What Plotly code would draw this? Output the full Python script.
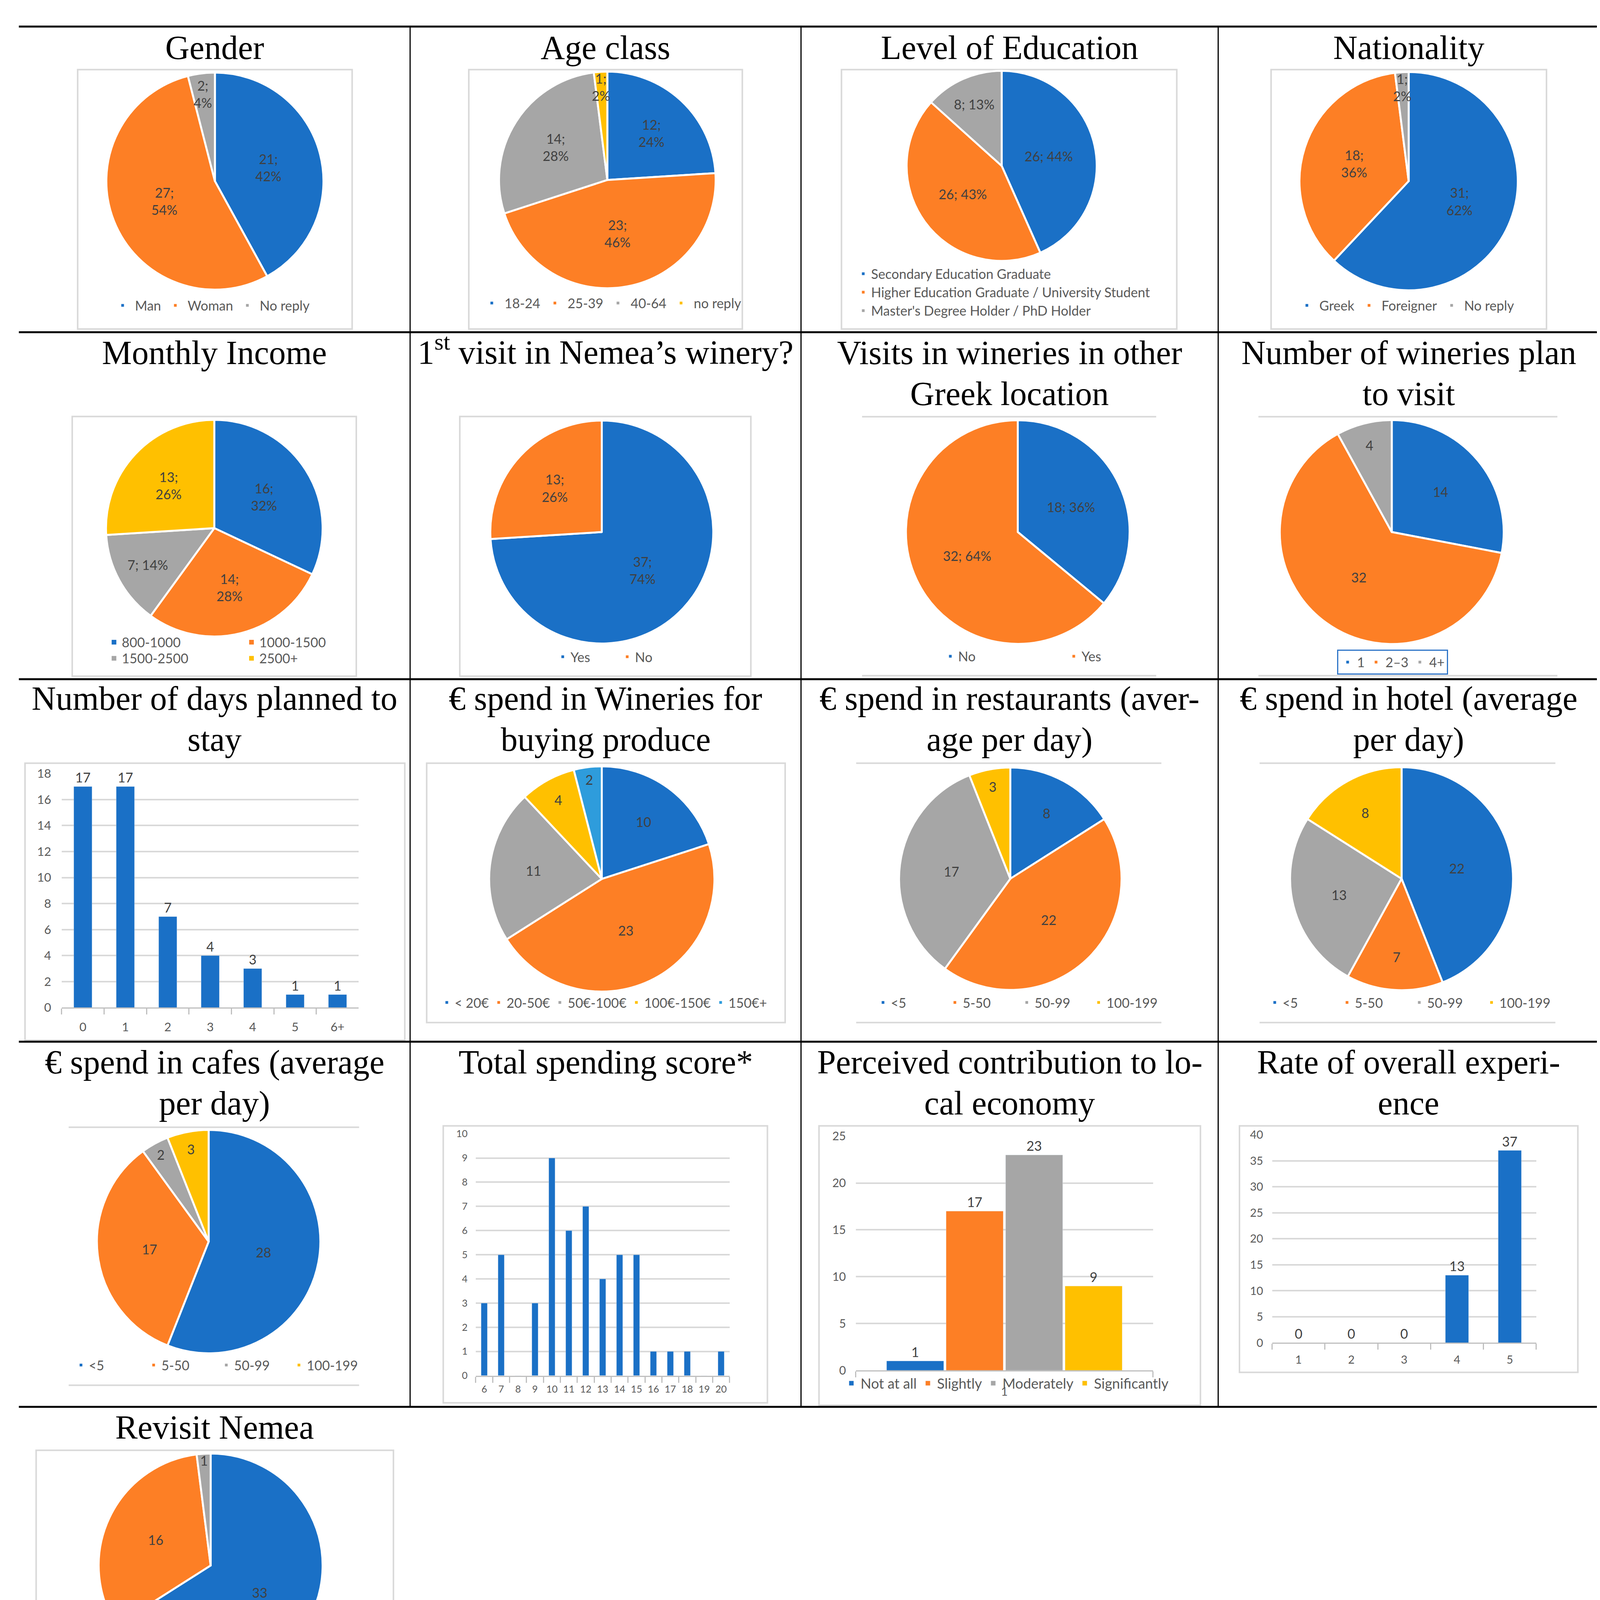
import plotly.graph_objects as go

# survey answers
gender_labels = ["Man", "Woman", "No reply"]
gender_values = [21, 27, 2]

age_labels = ["18-24", "25-39", "40-64", "no reply"]
age_values = [12, 23, 14, 1]

edu_labels = ["Secondary Education Graduate",
              "Higher Education Graduate / University Student",
              "Master's Degree Holder / PhD Holder"]
edu_values = [26, 26, 8]
edu_pct = [44, 43, 13]

nat_labels = ["Greek", "Foreigner", "No reply"]
nat_values = [31, 18, 1]

income_labels = ["800-1000", "1000-1500", "1500-2500", "2500+"]
income_values = [16, 14, 7, 13]

first_labels = ["Yes", "No"]
first_values = [37, 13]

other_labels = ["No", "Yes"]
other_values = [18, 32]

plan_labels = ["1", "2\u20133", "4+"]
plan_values = [14, 32, 4]

days_cats = ["0", "1", "2", "3", "4", "5", "6+"]
days_values = [17, 17, 7, 4, 3, 1, 1]

winery_labels = ["< 20\u20ac", "20-50\u20ac", "50\u20ac-100\u20ac", "100\u20ac-150\u20ac", "150\u20ac+"]
winery_values = [10, 23, 11, 4, 2]

spend_labels = ["<5", "5-50", "50-99", "100-199"]
rest_values = [8, 22, 17, 3]
hotel_values = [22, 7, 13, 8]
cafe_values = [28, 17, 2, 3]

score_cats = ["6", "7", "8", "9", "10", "11", "12", "13", "14", "15", "16", "17", "18", "19", "20"]
score_values = [3, 5, 0, 3, 9, 6, 7, 4, 5, 5, 1, 1, 1, 0, 1]

contrib_labels = ["Not at all", "Slightly", "Moderately", "Significantly"]
contrib_values = [1, 17, 23, 9]

rate_cats = ["1", "2", "3", "4", "5"]
rate_values = [0, 0, 0, 13, 37]

revisit_labels = ["Yes", "Maybe", "No"]
revisit_values = [33, 16, 1]

W, H = 4210, 4734
K = W / 1390  # layout below is measured on a 1390 px wide copy of the page

BLUE = "#1A70C6"
ORANGE = "#FD7F25"
GRAY = "#A6A6A6"
YELLOW = "#FFC000"
CYAN = "#2E9CDC"
PAL = [BLUE, ORANGE, GRAY, YELLOW, CYAN]

SERIF = "Liberation Serif"
SANS = "Lato"
LABEL = "#404040"
TICK = "#595959"
GRID = "#D9D9D9"


def X(t):
    return t * K / W


def Y(t):
    return 1 - t * K / H


fig = go.Figure()

TWO = "%{value};<br>%{percent:.0%}"
ONE = "%{value}; %{percent:.0%}"
LOW = "\u00a0<br>%{value};<br>%{percent:.0%}"  # thin slice: push label a bit inwards
pie_count = 0


def add_pie(labels, values, cx, cy, r, legend, template, showlegend=True, customdata=None):
    global pie_count
    pie_count += 1
    # plotly merges same-named slices across pies; keep each pie's legend separate
    names = [lab + "\u200b" * pie_count for lab in labels]
    fig.add_trace(go.Pie(
        labels=names, values=values, sort=False, direction="clockwise", rotation=0,
        marker=dict(colors=PAL[:len(values)], line=dict(color="white", width=5)),
        domain=dict(x=[X(cx - r), X(cx + r)], y=[Y(cy + r), Y(cy - r)]),
        texttemplate=template, textposition="inside", insidetextorientation="horizontal",
        textfont=dict(family=SANS, size=34, color=LABEL),
        customdata=customdata, legend=legend, showlegend=showlegend,
    ))


add_pie(gender_labels, gender_values, 179, 145, 92.5, "legend", [TWO, TWO, LOW])
add_pie(age_labels, age_values, 510.7, 144, 92.3, "legend2", [TWO, TWO, TWO, LOW])
add_pie(edu_labels, edu_values, 844, 132, 81, "legend3", "%{value}; %{customdata}%", customdata=edu_pct)
add_pie(nat_labels, nat_values, 1188, 145, 93, "legend4", [TWO, TWO, LOW])
add_pie(income_labels, income_values, 178.5, 440.7, 92.3, "legend5", [TWO, TWO, ONE, TWO], showlegend=False)
add_pie(first_labels, first_values, 506, 444, 95, "legend7", TWO)
add_pie(other_labels, other_values, 857.6, 444, 95.3, "legend8", ONE)
add_pie(plan_labels, plan_values, 1173.7, 444, 95.4, "legend9", "%{value}")
add_pie(winery_labels, winery_values, 506, 739.6, 96, "legend10", "%{value}")
add_pie(spend_labels, rest_values, 851.3, 739.4, 94.8, "legend11", "%{value}")
add_pie(spend_labels, hotel_values, 1182, 739.4, 95, "legend12", "%{value}")
add_pie(spend_labels, cafe_values, 173.7, 1048.6, 95.2, "legend13", "%{value}")
add_pie(revisit_labels, revisit_values, 175.4, 1324.6, 95.4, "legend15", "%{value}")

# income legend is laid out 2 x 2, as two legend rows
for i, lab in enumerate(income_labels):
    fig.add_trace(go.Scatter(
        x=[None], y=[None], mode="markers", name=lab,
        marker=dict(symbol="square", size=12, color=PAL[i]),
        legend="legend5" if i < 2 else "legend6", xaxis="x", yaxis="y",
    ))

bar_text = dict(texttemplate="%{y}", textposition="outside", cliponaxis=False)

fig.add_trace(go.Bar(x=days_cats, y=days_values, width=0.43, marker_color=BLUE,
                     textfont=dict(family=SANS, size=36, color=LABEL),
                     showlegend=False, xaxis="x", yaxis="y", **bar_text))
fig.add_trace(go.Bar(x=score_cats, y=score_values, width=0.37, marker_color=BLUE,
                     showlegend=False, xaxis="x2", yaxis="y2"))
for i, lab in enumerate(contrib_labels):
    fig.add_trace(go.Bar(x=["1"], y=[contrib_values[i]], name=lab, marker_color=PAL[i],
                         textfont=dict(family=SANS, size=38, color=LABEL),
                         legend="legend14", xaxis="x3", yaxis="y3", **bar_text))
fig.add_trace(go.Bar(x=rate_cats, y=rate_values, width=0.44, marker_color=BLUE,
                     textfont=dict(family=SANS, size=31, color=LABEL),
                     showlegend=False, xaxis="x4", yaxis="y4", **bar_text))


def xax(x0, x1, size, standoff):
    return dict(domain=[X(x0), X(x1)], type="category", showgrid=False,
                showline=True, linecolor="#BFBFBF", linewidth=3, ticks="outside",
                tickson="boundaries", ticklen=15, tickwidth=3, tickcolor="#BFBFBF",
                tickfont=dict(family=SANS, size=size, color=TICK),
                ticklabelstandoff=standoff, fixedrange=True)


def yax(y0, y1, top, dtick, size, standoff):
    return dict(domain=[Y(y0), Y(y1)], range=[0, top], dtick=dtick, showgrid=True,
                gridcolor=GRID, gridwidth=4, zeroline=False, showline=False,
                tickfont=dict(family=SANS, size=size, color=TICK),
                ticklabelstandoff=standoff, fixedrange=True)


axes = dict(
    xaxis=xax(49.5, 300.6, 31, 20),
    yaxis=yax(849.2, 649.8, 18, 2, 31, 26),
    xaxis2=xax(399.5, 614, 25, 10),
    yaxis2=yax(1162.8, 956.8, 10, 1, 25, 20),
    xaxis3=xax(720.6, 972, 30, 26),
    yaxis3=yax(1158.3, 958.8, 25, 5, 30, 24),
    xaxis4=xax(1072.6, 1295.8, 29, 16),
    yaxis4=yax(1134.8, 957.6, 40, 5, 29, 22),
)
for n in ("", "2", "3", "4"):
    axes["xaxis" + n]["anchor"] = "y" + n
    axes["yaxis" + n]["anchor"] = "x" + n


def leg(x, y, itemwidth=30, entrywidth=None, size=34, orientation="h", **kw):
    d = dict(x=X(x), y=Y(y), xanchor="left", yanchor="middle", orientation=orientation,
             itemwidth=itemwidth, font=dict(family=SANS, size=size, color=TICK),
             bgcolor="rgba(0,0,0,0)", itemclick=False, itemdoubleclick=False)
    if entrywidth:
        d["entrywidth"] = entrywidth
        d["entrywidthmode"] = "pixels"
    d.update(kw)
    return d


legends = dict(
    legend=leg(90.6, 251, itemwidth=53),
    legend2=leg(402.3, 249, itemwidth=55),
    legend3=leg(720.4, 239.7, orientation="v"),
    legend4=leg(1091.4, 251, itemwidth=54),
    legend5=leg(87.1, 538, entrywidth=307),
    legend6=leg(87.1, 551.7, entrywidth=307),
    legend7=leg(466.4, 550.4, entrywidth=120),
    legend8=leg(794, 550, entrywidth=271),
    legend9=leg(1127.5, 555, itemwidth=38, bordercolor="#2F75C8", borderwidth=3),
    legend10=leg(368.4, 845),
    legend11=leg(737.1, 845, entrywidth=139),
    legend12=leg(1068.2, 845, entrywidth=140),
    legend13=leg(59.2, 1153.9, entrywidth=141),
    legend14=leg(709.2, 1169.3, itemwidth=37, size=36),
    legend15=leg(116.6, 1428.3, itemwidth=50),
)

shapes = []


def line(x0, y0, x1, y1, color, width):
    shapes.append(dict(type="line", xref="paper", yref="paper", x0=X(x0), x1=X(x1),
                       y0=Y(y0), y1=Y(y1), line=dict(color=color, width=width), layer="below"))


# chart frames
frames = [
    (63, 50, 295, 271), (393.6, 50, 624.8, 271), (708.6, 50, 992, 271), (1071.7, 50, 1304.5, 271),
    (58.4, 345.6, 298.5, 566.8), (386, 345.6, 632, 566.8),
    (18.5, 641, 339.5, 877), (358, 641, 661, 862),
    (372, 950, 646, 1186), (689.6, 950, 1012, 1188), (1045, 950, 1331, 1160),
    (27.9, 1226.4, 329.9, 1447.5),
]
for x0, y0, x1, y1 in frames:
    shapes.append(dict(type="rect", xref="paper", yref="paper", x0=X(x0), x1=X(x1),
                       y0=Y(y1), y1=Y(y0), line=dict(color=GRID, width=4), layer="below"))
# frames that only show their top and bottom edge
for x0, x1, y0, y1 in [(726, 974.6, 345.7, 566.4), (1061, 1313.7, 345.7, 566.4),
                       (721, 979, 641, 862), (1062, 1312, 641, 862), (55.4, 300.9, 951.2, 1171)]:
    line(x0, y0, x1, y0, GRID, 4)
    line(x0, y1, x1, y1, GRID, 4)

# table rules
for yy in [13.3, 273.8, 569.4, 878.3, 1189.4, 1450.5]:
    line(13.3, yy, 1349, yy, "black", 5)
for xx in [344, 674.4, 1027]:
    line(xx, 13.3, xx, 1189.4, "black", 3)

col_c = [178.7, 509.2, 850.7, 1188]
titles = [
    ("Gender", 0, 41.6), ("Age class", 1, 41.6), ("Level of Education", 2, 41.6), ("Nationality", 3, 41.6),
    ("Monthly Income", 0, 301.5), ("1<sup>st</sup> visit in Nemea\u2019s winery?", 1, 297),
    ("Visits in wineries in other<br>Greek location", 2, 301.5),
    ("Number of wineries plan<br>to visit", 3, 301.5),
    ("Number of days planned to<br>stay", 0, 596), ("\u20ac spend in Wineries for<br>buying produce", 1, 596),
    ("\u20ac spend in restaurants (aver-<br>age per day)", 2, 596),
    ("\u20ac spend in hotel (average<br>per day)", 3, 596),
    ("\u20ac spend in cafes (average<br>per day)", 0, 906), ("Total spending score*", 1, 906),
    ("Perceived contribution to lo-<br>cal economy", 2, 906),
    ("Rate of overall experi-<br>ence", 3, 906),
    ("Revisit Nemea", 0, 1217.2),
]
TS = 86
annotations = []


def text_line(text, x, base, size, xanchor):
    annotations.append(dict(text=text, x=X(x), y=Y(base - 0.95 * size / K), xref="paper",
                            yref="paper", xanchor=xanchor, yanchor="top", showarrow=False,
                            font=dict(family=SERIF, size=size, color="black")))


for text, col, base in titles:
    for i, part in enumerate(text.split("<br>")):
        text_line(part, col_c[col], base + i * 35.1, TS, "center")

FS = 71
text_line("*the summation of spending scores in all categories including spending scores (i) for gas, (ii) super-",
          301, 1509, FS, "left")
text_line("market and (iii) other retail markets", 301, 1548, FS, "left")

fig.update_layout(
    width=W, height=H, margin=dict(l=0, r=0, t=0, b=0),
    paper_bgcolor="white", plot_bgcolor="white",
    barmode="group", bargap=0.2, bargroupgap=0.04,
    uniformtext=dict(minsize=34, mode="show"),
    showlegend=True, shapes=shapes, annotations=annotations,
    **axes, **legends,
)

fig.write_html("out.html")
